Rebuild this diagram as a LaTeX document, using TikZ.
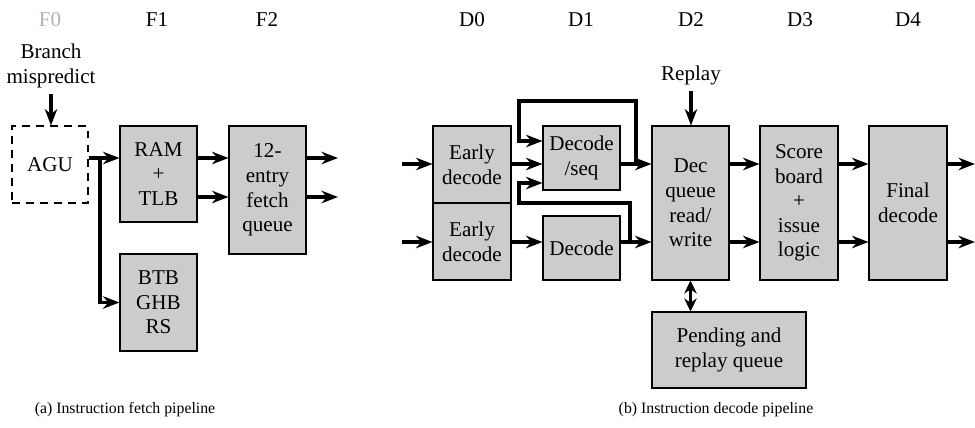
\documentclass[tikz,border=0pt]{standalone}
\usepackage{fontspec}
\setmainfont{Liberation Serif}
\usetikzlibrary{arrows.meta}

\tikzset{
  blk/.style={draw,fill=gray!40,line width=.6pt,align=center,inner sep=0pt,font=\large},
  txt/.style={align=center,font=\large},
  flow/.style={line width=1.8pt,-{Stealth[length=3.3mm,width=2.5mm]}},
  both/.style={line width=1.8pt,{Stealth[length=2.6mm,width=2.5mm]}-{Stealth[length=2.6mm,width=2.5mm]}},
}

\begin{document}
\begin{tikzpicture}[x=0.02cm,y=-0.02cm]
  \useasboundingbox (0,0) rectangle (975,427);
  % stage labels
  \node[txt,gray!60] (f0) at (50,20) {F0};
  \node[txt] (f1) at (157,20) {F1};
  \node[txt] (f2) at (267,20) {F2};
  \foreach \n/\x in {0/472,1/581,2/691,3/800,4/908}
    \node[txt] (d\n) at (\x,20) {D\n};

  % fetch pipeline
  \node[txt] (bm) at (51,66) {Branch\\mispredict};
  \node[blk,fill=none,dash pattern=on 4.5pt off 3.5pt,minimum width=1.52cm,minimum height=1.54cm] (agu) at (50,164.5) {AGU};
  \node[blk,minimum width=1.54cm,minimum height=1.92cm] (ram) at (158.5,174) {RAM\\+\\TLB};
  \node[blk,minimum width=1.54cm,minimum height=1.94cm] (btb) at (158.5,302.5) {BTB\\GHB\\RS};
  \node[blk,minimum width=1.54cm,minimum height=2.56cm] (fq) at (267.5,190) {12-\\entry\\fetch\\queue};
  \coordinate (j1) at (100,158);

  \draw[flow] (bm.south) -- (bm.south |- agu.north);
  \draw[flow] (agu.east |- j1) -- (ram.west |- j1);
  \draw[flow] (j1) |- (btb.west);
  \foreach \y [count=\i] in {158,197} {
    \coordinate (fo\i) at (338,\y);
    \draw[flow] (ram.east |- fo\i) -- (fq.west |- fo\i);
    \draw[flow] (fq.east |- fo\i) -- (fo\i);
  }

  % decode pipeline
  \node[blk,minimum width=1.56cm,minimum height=1.54cm] (ed1) at (472,164.5) {Early\\decode};
  \node[blk,minimum width=1.56cm,minimum height=1.54cm] (ed2) at (472,241.5) {Early\\decode};
  \node[blk,minimum width=1.54cm,minimum height=1.28cm] (dseq) at (581.5,158) {Decode\\/seq};
  \node[blk,minimum width=1.54cm,minimum height=1.28cm] (dec) at (581.5,248) {Decode};
  \node[blk,minimum width=1.54cm,minimum height=3.08cm] (dq) at (690.5,203) {Dec\\queue\\read/\\write};
  \node[blk,minimum width=1.56cm,minimum height=3.08cm] (sb) at (799,203) {Score\\board\\+\\issue\\logic};
  \node[blk,minimum width=1.56cm,minimum height=3.08cm] (fd) at (908,203) {Final\\decode};
  \node[blk,minimum width=3.08cm,minimum height=1.52cm] (prq) at (729,350) {Pending and\\replay queue};
  \node[txt] (rp) at (691,75) {Replay};

  \foreach \y [count=\i] in {164,242} {
    \coordinate (di\i) at (402,\y);
    \coordinate (do\i) at (975,\y);
    \draw[flow] (di\i) -- (ed1.west |- di\i);
    \draw[flow] (dq.east |- di\i) -- (sb.west |- di\i);
    \draw[flow] (sb.east |- di\i) -- (fd.west |- di\i);
    \draw[flow] (fd.east |- di\i) -- (do\i);
  }
  \draw[flow] (ed1.east |- di1) -- (dseq.west |- di1);
  \draw[flow] (ed2.east |- di2) -- (dec.west |- di2);
  \draw[flow] (dseq.east |- di1) -- (dq.west |- di1);
  \draw[flow] (dec.east |- di2) -- (dq.west |- di2);
  % loops back into decode/seq
  \coordinate (lp1) at (636,164);
  \coordinate (lp2) at (630,242);
  \draw[flow] (lp1) -- (636,101) -- (519,101) |- (dseq.west |- 0,141);
  \draw[flow] (lp2) -- (630,203) -- (519,203) |- (dseq.west |- 0,183);

  \draw[flow] (rp.south) -- (rp.south |- dq.north);
  \draw[both] (dq.south) -- (dq.south |- prq.north);

  \node[font=\small] (capa) at (125,410) {(a) Instruction fetch pipeline};
  \node[font=\small] (capb) at (716,410) {(b) Instruction decode pipeline};
\end{tikzpicture}
\end{document}
